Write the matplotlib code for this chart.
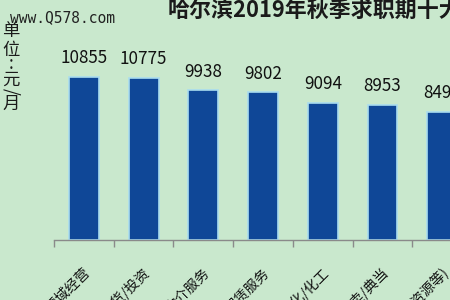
import matplotlib
matplotlib.use("Agg")
import matplotlib.pyplot as plt  # To draw the chart
import matplotlib.transforms as mtransforms  # To shift the tick labels
import numpy as np

plt.rcParams['font.family'] = ['Noto Sans CJK SC', 'DejaVu Sans']

# Data (the right part of the original chart is cut off)
industries = ['跨领域经营', '基金/证券/期货/投资', '中介服务', '租赁服务',
              '石油/石化/化工', '信托/担保/拍卖/典当', '专业服务/咨询(财会/法律/人力资源等)']
salaries = [10855, 10775, 9938, 9802, 9094, 8953, 8492]
title = '哈尔滨2019年秋季求职期十大高薪行业'
unit_chars = ['单', '位', ':', '元', '/', '月']

bg_color = '#c9e8cd'
bar_color = '#0f4797'
edge_color = '#a9dcef'

fig = plt.figure(figsize=(4.5, 3), dpi=100)
fig.patch.set_facecolor(bg_color)

# The axes goes past the right edge of the figure, like the cropped original
ax = fig.add_axes([0.12, 0.2, 0.88, 0.8])
ax.set_facecolor(bg_color)

x = np.arange(len(industries))
ax.bar(x, salaries, width=0.5, color=bar_color, edgecolor=edge_color, linewidth=1.2, zorder=2)

# Value above each bar
for xi, val in zip(x, salaries):
    ax.annotate(f'{val}', (xi, val), xytext=(0, 7), textcoords='offset points',
                ha='center', va='bottom', fontsize=12.3, color='#111111')

# Axis: only the bottom line, ticks at the category boundaries
for side in ['left', 'top', 'right']:
    ax.spines[side].set_visible(False)
ax.spines['bottom'].set_color('#8a8a8a')
ax.spines['bottom'].set_linewidth(1)
ax.set_yticks([])
ax.set_xticks(x)
ax.set_xticks(np.arange(len(industries) + 1) - 0.5, minor=True)
ax.tick_params(axis='x', which='major', length=0, pad=22)
ax.tick_params(axis='x', which='minor', length=5, color='#8a8a8a', width=1)
ax.set_xticklabels(industries, rotation=45, ha='right', va='center',
                   rotation_mode='anchor', fontsize=10, color='#111111')
shift = mtransforms.ScaledTranslation(4 / 100, 0, fig.dpi_scale_trans)
for lab in ax.get_xticklabels():
    lab.set_transform(lab.get_transform() + shift)

# limits after the ticks, so the ticks do not widen them
ax.set_xlim(-0.5, 6.13)
ax.set_ylim(0, 15940)

# Title (cut by the right edge)
fig.text(168 / 450, 1 - 11 / 300, title, ha='left', va='center',
         fontsize=15.8, fontweight='bold', color='#1a1a1a')

# Watermark
fig.text(10 / 450, 1 - 18 / 300, 'www.Q578.com', ha='left', va='center',
         fontsize=10.5, family='DejaVu Sans Mono', color='#222222')

# Unit label, one character under the other
unit_y = [31, 50, 64, 80, 91, 104]
for ch, yy in zip(unit_chars, unit_y):
    fig.text(11 / 450, 1 - yy / 300, ch, ha='center', va='center', fontsize=12.5,
             color='#1a1a1a', rotation=-90 if ch == '/' else 0)

fig.savefig('out.png', dpi=100, facecolor=bg_color)
